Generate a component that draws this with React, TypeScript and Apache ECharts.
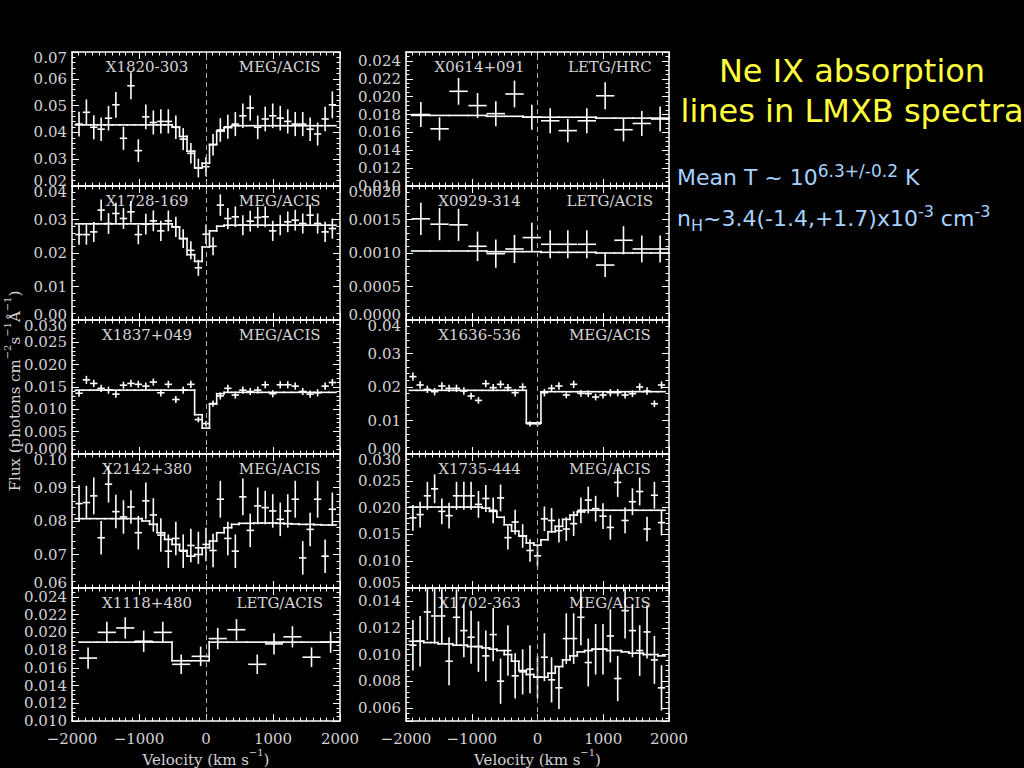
import React, { useEffect, useRef } from "react";
import * as echarts from "echarts";

// ---------- data ----------
const PANEL_NAMES = ["X1820-303", "X1728-169", "X1837+049", "X2142+380", "X1118+480", "X0614+091", "X0929-314", "X1636-536", "X1735-444", "X1702-363"];
const INSTRUMENTS = ["MEG/ACIS", "MEG/ACIS", "MEG/ACIS", "MEG/ACIS", "LETG/ACIS", "LETG/HRC", "LETG/ACIS", "MEG/ACIS", "MEG/ACIS", "MEG/ACIS"];
const Y_MIN = [0.02, 0, 0, 0.06, 0.01, 0.01, 0, 0, 0.005, 0.005];
const Y_MAX = [0.07, 0.04, 0.03, 0.1, 0.025, 0.025, 0.002, 0.04, 0.03, 0.015];
const Y_STEP = [0.01, 0.01, 0.005, 0.01, 0.002, 0.002, 0.0005, 0.01, 0.005, 0];
const Y_DECIMALS = [2, 2, 3, 2, 3, 3, 4, 2, 3, 3];
const X_TICKS_STEP = 1000;

// velocity bin centres (km/s)
const VEL35 = [-1895, -1785, -1675, -1565, -1455, -1345, -1232, -1120, -1010, -898, -786, -674, -562, -450, -340, -226, -114, 0, 105, 214, 326, 438, 550, 660, 772, 884, 996, 1108, 1220, 1332, 1444, 1554, 1666, 1778, 1886];
const VEL14_L = [-1760, -1480, -1205, -930, -645, -370, -80, 175, 455, 765, 1015, 1290, 1575, 1860];
const VEL14_R = [-1774, -1490, -1201, -912, -634, -350, -86, 193, 461, 750, 1029, 1308, 1586, 1865];
const HALF_BIN = [55, 55, 55, 55, 135, 140, 140, 55, 55, 55];

// X1820-303
const P1_FLUX = [0.0431, 0.0475, 0.0419, 0.0412, 0.0453, 0.0503, 0.0378, 0.0574, 0.0332, 0.0458, 0.0437, 0.0441, 0.0441, 0.0419, 0.0375, 0.0322, 0.0267, 0.0272, 0.0354, 0.0409, 0.0421, 0.0431, 0.0462, 0.0491, 0.0419, 0.045, 0.0462, 0.0453, 0.0441, 0.0431, 0.0431, 0.0412, 0.0394, 0.045, 0.0503];
const P1_ERR = [0.0046, 0.0048, 0.0045, 0.0044, 0.0046, 0.0048, 0.0043, 0.005, 0.0042, 0.0046, 0.0045, 0.0045, 0.0045, 0.0044, 0.0041, 0.0038, 0.0035, 0.0036, 0.004, 0.0044, 0.0045, 0.0045, 0.0046, 0.0047, 0.0044, 0.0046, 0.0046, 0.0046, 0.0045, 0.0045, 0.0045, 0.0044, 0.0043, 0.0046, 0.005];
const P1_MODEL = [0.0428, 0.0428, 0.0428, 0.0428, 0.0428, 0.0428, 0.0428, 0.0428, 0.0428, 0.0428, 0.0428, 0.0428, 0.0428, 0.042, 0.0385, 0.033, 0.0268, 0.0285, 0.0355, 0.0405, 0.0418, 0.0425, 0.0425, 0.0425, 0.0425, 0.0425, 0.0425, 0.0425, 0.0425, 0.0425, 0.0425, 0.0425, 0.0425, 0.0425, 0.0425];
// X1728-169
const P2_FLUX = [0.0255, 0.0255, 0.0263, 0.0328, 0.0288, 0.0318, 0.0303, 0.0323, 0.0255, 0.0286, 0.0296, 0.0266, 0.0296, 0.0278, 0.0243, 0.0208, 0.0156, 0.0256, 0.022, 0.0343, 0.0303, 0.0308, 0.0283, 0.0295, 0.0306, 0.0308, 0.0266, 0.0283, 0.0293, 0.0298, 0.0288, 0.0313, 0.0288, 0.0263, 0.0273];
const P2_ERR = [0.003, 0.003, 0.003, 0.0032, 0.0031, 0.0032, 0.0031, 0.0032, 0.0029, 0.0031, 0.0031, 0.003, 0.0031, 0.003, 0.0028, 0.0027, 0.0024, 0.0029, 0.0027, 0.0032, 0.0031, 0.0031, 0.003, 0.0031, 0.0031, 0.0031, 0.003, 0.003, 0.0031, 0.0031, 0.003, 0.0032, 0.003, 0.003, 0.003];
const P2_MODEL = [0.0287, 0.0287, 0.0287, 0.0287, 0.0287, 0.0287, 0.0287, 0.0287, 0.0287, 0.0287, 0.0287, 0.0287, 0.0287, 0.0278, 0.0243, 0.0195, 0.0175, 0.0218, 0.0266, 0.028, 0.0283, 0.0283, 0.0283, 0.0283, 0.0283, 0.0283, 0.0283, 0.0283, 0.0283, 0.0283, 0.0283, 0.0283, 0.0283, 0.0283, 0.0283];
// X1837+049
const P3_FLUX = [0.0136, 0.0166, 0.0158, 0.0147, 0.0143, 0.0134, 0.0154, 0.0158, 0.0156, 0.0152, 0.0161, 0.0137, 0.0156, 0.0122, 0.0143, 0.0156, 0.0077, 0.0068, 0.0113, 0.013, 0.0147, 0.0132, 0.0143, 0.014, 0.0143, 0.0155, 0.0135, 0.0155, 0.0155, 0.0152, 0.014, 0.0134, 0.0137, 0.0152, 0.016];
const P3_ERR = [0.0008, 0.0009, 0.0008, 0.0008, 0.0008, 0.0008, 0.0008, 0.0008, 0.0008, 0.0008, 0.0008, 0.0008, 0.0008, 0.0008, 0.0008, 0.0008, 0.0006, 0.0006, 0.0007, 0.0008, 0.0008, 0.0008, 0.0008, 0.0008, 0.0008, 0.0008, 0.0008, 0.0008, 0.0008, 0.0008, 0.0008, 0.0008, 0.0008, 0.0008, 0.0008];
const P3_MODEL = [0.0143, 0.0143, 0.0143, 0.0143, 0.0143, 0.0143, 0.0143, 0.0143, 0.0143, 0.0143, 0.0143, 0.0143, 0.0143, 0.0143, 0.0143, 0.0143, 0.0088, 0.0058, 0.0112, 0.0135, 0.0138, 0.0138, 0.0138, 0.0138, 0.0138, 0.0138, 0.0138, 0.0138, 0.0138, 0.0138, 0.0138, 0.0138, 0.0138, 0.0138, 0.0138];
// X2142+380
const P4_FLUX = [0.0852, 0.0855, 0.0875, 0.075, 0.091, 0.0828, 0.0812, 0.0842, 0.0765, 0.086, 0.0818, 0.0758, 0.071, 0.0748, 0.071, 0.0727, 0.072, 0.073, 0.0712, 0.0865, 0.0748, 0.071, 0.0872, 0.0772, 0.0845, 0.084, 0.083, 0.0805, 0.083, 0.0865, 0.069, 0.0775, 0.0865, 0.0695, 0.0835];
const P4_ERR = [0.0055, 0.005, 0.0055, 0.005, 0.0055, 0.005, 0.005, 0.005, 0.005, 0.0055, 0.005, 0.005, 0.005, 0.005, 0.005, 0.005, 0.0048, 0.005, 0.005, 0.0055, 0.005, 0.005, 0.0055, 0.005, 0.0055, 0.005, 0.005, 0.005, 0.005, 0.0055, 0.005, 0.005, 0.0055, 0.005, 0.005];
const P4_MODEL = [0.0807, 0.0807, 0.0807, 0.0807, 0.0807, 0.0807, 0.0807, 0.0807, 0.0807, 0.08, 0.079, 0.0765, 0.0745, 0.073, 0.0712, 0.0695, 0.07, 0.072, 0.074, 0.0765, 0.078, 0.079, 0.0793, 0.0793, 0.0794, 0.0794, 0.0794, 0.0793, 0.0792, 0.0791, 0.079, 0.079, 0.0789, 0.0788, 0.0788];
// X1118+480
const P5_FLUX = [0.0171, 0.02, 0.0205, 0.019, 0.02, 0.0164, 0.0173, 0.0193, 0.0203, 0.0164, 0.0187, 0.0195, 0.0172, 0.0189];
const P5_ERR = [0.0012, 0.0012, 0.0012, 0.0012, 0.0012, 0.0011, 0.0011, 0.0012, 0.0012, 0.0011, 0.0012, 0.0012, 0.0011, 0.0012];
const P5_MODEL = [0.0189, 0.0189, 0.0189, 0.0189, 0.0189, 0.0168, 0.0168, 0.0189, 0.0189, 0.0189, 0.0189, 0.0189, 0.0189, 0.0189];
// X0614+091
const R1_FLUX = [0.018, 0.0164, 0.0206, 0.019, 0.0181, 0.0203, 0.0177, 0.0173, 0.0162, 0.0173, 0.0201, 0.0163, 0.017, 0.0175];
const R1_ERR = [0.0014, 0.0013, 0.0015, 0.0014, 0.0014, 0.0015, 0.0014, 0.0014, 0.0013, 0.0014, 0.0015, 0.0013, 0.0014, 0.0014];
const R1_MODEL = [0.0179, 0.0179, 0.0179, 0.0179, 0.0178, 0.0178, 0.0177, 0.0177, 0.0177, 0.0177, 0.0176, 0.0176, 0.0176, 0.0176];
// X0929-314
const R2_FLUX = [0.00151, 0.00143, 0.00142, 0.0011, 0.00099, 0.00106, 0.00123, 0.00113, 0.00113, 0.00113, 0.00082, 0.00119, 0.00106, 0.00106];
const R2_ERR = [0.00024, 0.00024, 0.00024, 0.00022, 0.00021, 0.00021, 0.00022, 0.00021, 0.00021, 0.00021, 0.00018, 0.00021, 0.0002, 0.0002];
const R2_MODEL = [0.00103, 0.00103, 0.00103, 0.00103, 0.00102, 0.00102, 0.00102, 0.00101, 0.00101, 0.00101, 0.001, 0.001, 0.001, 0.001];
// X1636-536
const R3_FLUX = [0.0231, 0.0206, 0.0193, 0.0186, 0.0203, 0.0196, 0.0196, 0.0188, 0.0173, 0.016, 0.021, 0.0198, 0.0208, 0.0198, 0.0183, 0.02, 0.009, 0.009, 0.0183, 0.0196, 0.0203, 0.0176, 0.0208, 0.0181, 0.018, 0.017, 0.0176, 0.0183, 0.0183, 0.0176, 0.018, 0.02, 0.0188, 0.015, 0.0206];
const R3_ERR = [0.0012, 0.0011, 0.0011, 0.0011, 0.0011, 0.0011, 0.0011, 0.0011, 0.001, 0.001, 0.0011, 0.0011, 0.0011, 0.0011, 0.0011, 0.0011, 0.0008, 0.0008, 0.0011, 0.0011, 0.0011, 0.001, 0.0011, 0.001, 0.001, 0.001, 0.001, 0.0011, 0.0011, 0.001, 0.001, 0.0011, 0.0011, 0.001, 0.0011];
const R3_MODEL = [0.019, 0.019, 0.019, 0.019, 0.019, 0.019, 0.019, 0.019, 0.019, 0.019, 0.019, 0.019, 0.019, 0.019, 0.019, 0.019, 0.0093, 0.0093, 0.0186, 0.0186, 0.0186, 0.0186, 0.0186, 0.0186, 0.0186, 0.0186, 0.0186, 0.0186, 0.0186, 0.0186, 0.0186, 0.0186, 0.0186, 0.0186, 0.0186];
// X1735-444
const R4_FLUX = [0.0181, 0.0187, 0.0222, 0.0235, 0.0193, 0.0185, 0.0222, 0.0222, 0.0222, 0.0206, 0.0217, 0.0195, 0.0218, 0.0144, 0.0173, 0.0147, 0.012, 0.011, 0.0179, 0.0176, 0.0157, 0.016, 0.017, 0.0195, 0.0214, 0.0198, 0.0184, 0.0163, 0.0247, 0.0176, 0.0211, 0.023, 0.016, 0.0223, 0.0172];
const R4_ERR = [0.0024, 0.0024, 0.0026, 0.0027, 0.0024, 0.0024, 0.0026, 0.0026, 0.0026, 0.0025, 0.0025, 0.0024, 0.0025, 0.0022, 0.0023, 0.0022, 0.0021, 0.002, 0.0023, 0.0023, 0.0022, 0.0022, 0.0023, 0.0024, 0.0025, 0.0024, 0.0024, 0.0023, 0.0027, 0.0024, 0.0025, 0.0026, 0.0023, 0.0025, 0.0024];
const R4_MODEL = [0.0201, 0.0201, 0.0201, 0.0201, 0.0201, 0.0201, 0.0201, 0.0201, 0.0201, 0.0201, 0.0199, 0.0193, 0.0182, 0.0168, 0.0156, 0.0147, 0.0134, 0.013, 0.014, 0.0155, 0.0165, 0.0178, 0.0186, 0.0192, 0.0195, 0.0195, 0.0195, 0.0195, 0.0195, 0.0195, 0.0195, 0.0195, 0.0195, 0.0195, 0.0195];
// X1702-363
const R5_FLUX = [0.0107, 0.011, 0.0132, 0.0129, 0.0129, 0.0095, 0.0128, 0.0118, 0.0113, 0.0106, 0.0099, 0.0115, 0.008, 0.0103, 0.0084, 0.0087, 0.0089, 0.0083, 0.0098, 0.0081, 0.0075, 0.0112, 0.0112, 0.0128, 0.0094, 0.0104, 0.0104, 0.0114, 0.0082, 0.0133, 0.0118, 0.0103, 0.0117, 0.0096, 0.0075];
const R5_ERR = [0.0019, 0.0019, 0.0021, 0.0021, 0.0021, 0.0018, 0.0021, 0.002, 0.002, 0.0019, 0.0019, 0.002, 0.0017, 0.0019, 0.0017, 0.0017, 0.0018, 0.0016, 0.0018, 0.0017, 0.0016, 0.0019, 0.0019, 0.0021, 0.0018, 0.0019, 0.0019, 0.002, 0.0017, 0.0021, 0.002, 0.0019, 0.002, 0.0018, 0.0017];
const R5_MODEL = [0.011, 0.011, 0.0109, 0.0109, 0.0108, 0.0108, 0.0107, 0.0107, 0.0106, 0.0106, 0.0105, 0.0104, 0.0103, 0.01, 0.0095, 0.0088, 0.0085, 0.0083, 0.0083, 0.0086, 0.0091, 0.0096, 0.0099, 0.0102, 0.0103, 0.0104, 0.0104, 0.0103, 0.0103, 0.0102, 0.0101, 0.0101, 0.01, 0.01, 0.0099];

const VELS = [VEL35, VEL35, VEL35, VEL35, VEL14_L, VEL14_R, VEL14_R, VEL35, VEL35, VEL35];
const FLUXES = [P1_FLUX, P2_FLUX, P3_FLUX, P4_FLUX, P5_FLUX, R1_FLUX, R2_FLUX, R3_FLUX, R4_FLUX, R5_FLUX];
const ERRS = [P1_ERR, P2_ERR, P3_ERR, P4_ERR, P5_ERR, R1_ERR, R2_ERR, R3_ERR, R4_ERR, R5_ERR];
const MODELS = [P1_MODEL, P2_MODEL, P3_MODEL, P4_MODEL, P5_MODEL, R1_MODEL, R2_MODEL, R3_MODEL, R4_MODEL, R5_MODEL];

// ---------- layout ----------
const COL_LEFT = [72, 406];
const COL_WIDTH = [268, 263];
const ROW_TOP0 = 52;
const ROW_H = 134;
const SERIF = "DejaVu Serif";
const SANS = "DejaVu Sans";
const LABEL_COLOR = "#d4d4d4";
const LINE_COLOR = "#ffffff";

function minusFmt(v: number, dec: number) {
  const s = Math.abs(v).toFixed(dec);
  return v < 0 ? "\u2212" + s : s;
}

const tickFont = { fontFamily: SERIF, fontSize: 15, color: LABEL_COLOR };

function buildOption() {
  const grid: any[] = [];
  const xAxis: any[] = [];
  const yAxis: any[] = [];
  const series: any[] = [];
  const graphic: any[] = [];

  for (let i = 0; i < 10; i++) {
    const col = i < 5 ? 0 : 1;
    const row = i % 5;
    const left = COL_LEFT[col];
    const width = COL_WIDTH[col];
    const top = ROW_TOP0 + row * ROW_H;
    const isBottom = row === 4;
    grid.push({ left, top, width, height: ROW_H, show: false });

    const axisLine = { show: true, onZero: false, lineStyle: { color: LINE_COLOR, width: 1.5 } };
    const tick = { show: true, inside: true, length: 7, lineStyle: { color: LINE_COLOR, width: 1 } };
    const xBase = {
      gridIndex: i, type: "value", min: -2000, max: 2000, interval: X_TICKS_STEP,
      axisLine, axisTick: tick,
      minorTick: { show: true, splitNumber: 10, length: 3.5, lineStyle: { color: LINE_COLOR, width: 1 } },
      splitLine: { show: false },
    };
    xAxis.push({
      ...xBase, position: "bottom",
      axisLabel: {
        show: isBottom, ...tickFont, margin: 10,
        formatter: (v: number) => minusFmt(v, 0),
      },
      name: isBottom ? "{n|Velocity (km s}{sup|\u22121}{n|)}" : "",
      nameLocation: "middle", nameGap: 25,
      nameTextStyle: {
        rich: {
          n: { ...tickFont, lineHeight: 20, verticalAlign: "bottom" },
          sup: { ...tickFont, fontSize: 10, verticalAlign: "top" },
        },
      },
    });
    xAxis.push({ ...xBase, position: "top", axisLabel: { show: false } });

    const step = Y_STEP[i];
    const dec = Y_DECIMALS[i];
    const yMin = Y_MIN[i];
    const yMax = Y_MAX[i];
    const dense = step === 0.002;
    const yBase: any = {
      gridIndex: i, type: "value", min: yMin, max: yMax,
      axisLine, axisTick: tick,
      minorTick: { show: true, splitNumber: dense ? 4 : 5, length: 3.5, lineStyle: { color: LINE_COLOR, width: 1 } },
      splitLine: { show: false },
    };
    if (step > 0) yBase.interval = step; else yBase.splitNumber = 5;
    yAxis.push({
      ...yBase, position: "left",
      axisLabel: {
        show: true, ...tickFont, margin: 5, hideOverlap: false,
        showMinLabel: step === 0 ? false : true,
        showMaxLabel: step === 0 || dense ? false : true,
        formatter: (v: number) => {
          const s = v.toFixed(dec);
          if (Math.abs(v - yMax) < 1e-9) return "{hi|" + s + "}";
          if (!dense && Math.abs(v - yMin) < 1e-9) return "{lo|" + s + "}";
          return "{m|" + s + "}";
        },
        rich: {
          m: { ...tickFont },
          hi: { ...tickFont, padding: [11, 0, 0, 0] },
          lo: { ...tickFont, padding: [0, 0, 11, 0] },
        },
      },
    });
    yAxis.push({ ...yBase, position: "right", axisLabel: { show: false } });

    const xi = i * 2;
    const yi = i * 2;

    // zero-velocity dashed line
    series.push({
      type: "scatter", xAxisIndex: xi, yAxisIndex: yi, data: [], silent: true,
      markLine: {
        silent: true, symbol: "none", animation: false,
        label: { show: false },
        lineStyle: { color: "#b0b0b0", type: [5, 4], width: 1 },
        data: [{ xAxis: 0 }],
      },
    });

    const vel = VELS[i];
    const flux = FLUXES[i];
    const err = ERRS[i];
    const model = MODELS[i];
    const hw = HALF_BIN[i];
    const n = vel.length;

    // model histogram
    const modelData = vel.map((v, k) => [
      k === 0 ? v - hw : (vel[k - 1] + v) / 2,
      k === n - 1 ? v + hw : (v + vel[k + 1]) / 2,
      model[k],
      k === 0 ? model[k] : model[k - 1],
    ]);
    series.push({
      type: "custom", xAxisIndex: xi, yAxisIndex: yi, silent: true,
      encode: { x: [0, 1], y: [2, 3] },
      data: modelData,
      renderItem: (params: any, api: any) => {
        const y = api.value(2);
        const l = api.coord([api.value(0), y]);
        const r = api.coord([api.value(1), y]);
        const p = api.coord([api.value(0), api.value(3)]);
        const style = { stroke: LINE_COLOR, lineWidth: 1.6, lineCap: "square" };
        return {
          type: "group",
          children: [
            { type: "line", shape: { x1: l[0], y1: l[1], x2: r[0], y2: r[1] }, style },
            { type: "line", shape: { x1: l[0], y1: p[1], x2: l[0], y2: l[1] }, style },
          ],
        };
      },
    });

    // data points with error bars
    const pts = vel.map((v, k) => [v, flux[k], err[k]]);
    series.push({
      type: "custom", xAxisIndex: xi, yAxisIndex: yi, silent: true,
      encode: { x: 0, y: 1 },
      data: pts,
      renderItem: (params: any, api: any) => {
        const x = api.value(0);
        const y = api.value(1);
        const e = api.value(2);
        const cs = params.coordSys;
        const cy = (v: number) => Math.max(cs.y, Math.min(cs.y + cs.height, v));
        const cx = (v: number) => Math.max(cs.x, Math.min(cs.x + cs.width, v));
        const c = api.coord([x, y]);
        const l = api.coord([x - hw, y]);
        const r = api.coord([x + hw, y]);
        const t = api.coord([x, y + e]);
        const b = api.coord([x, y - e]);
        const style = { stroke: LINE_COLOR, lineWidth: 1.6 };
        return {
          type: "group",
          children: [
            { type: "line", shape: { x1: cx(l[0]), y1: c[1], x2: cx(r[0]), y2: c[1] }, style },
            { type: "line", shape: { x1: c[0], y1: cy(t[1]), x2: c[0], y2: cy(b[1]) }, style },
          ],
        };
      },
    });

    // panel captions
    graphic.push({
      type: "text", x: left + 0.28 * width, y: top + 15, silent: true,
      style: { text: PANEL_NAMES[i], fill: LABEL_COLOR, font: `15px '${SERIF}'`, textAlign: "center", textVerticalAlign: "middle" },
    });
    graphic.push({
      type: "text", x: left + 0.775 * width, y: top + 15, silent: true,
      style: { text: INSTRUMENTS[i], fill: LABEL_COLOR, font: `15px '${SERIF}'`, textAlign: "center", textVerticalAlign: "middle" },
    });
  }

  // y-axis title
  graphic.push({
    type: "text", x: 12, y: 391, rotation: Math.PI / 2, silent: true,
    style: {
      text: "{n|Flux (photons cm}{sup|\u22122}{n|s}{sup|\u22121}{n|\u00C5}{sup|\u22121}{n|)}",
      textAlign: "center", textVerticalAlign: "middle",
      rich: {
        n: { fontFamily: SERIF, fontSize: 15, fill: LABEL_COLOR, lineHeight: 20, verticalAlign: "bottom" },
        sup: { fontFamily: SERIF, fontSize: 10, fill: LABEL_COLOR, verticalAlign: "top" },
      },
    },
  });

  // headline text
  const yellow = "#ffff3c";
  graphic.push({
    type: "text", x: 852, y: 71, silent: true,
    style: { text: "Ne IX absorption", fill: yellow, font: `32px '${SANS}'`, textAlign: "center", textVerticalAlign: "middle" },
  });
  graphic.push({
    type: "text", x: 852, y: 111, silent: true,
    style: { text: "lines in LMXB spectra", fill: yellow, font: `32px '${SANS}'`, textAlign: "center", textVerticalAlign: "middle" },
  });
  const blue = "#a6d2ff";
  graphic.push({
    type: "text", x: 677, y: 177, silent: true,
    style: {
      text: "{n|Mean T ~ 10}{sup|6.3+/-0.2}{n| K}",
      textAlign: "left", textVerticalAlign: "middle",
      rich: {
        n: { fontFamily: SANS, fontSize: 22, fill: blue, lineHeight: 30, verticalAlign: "middle" },
        sup: { fontFamily: SANS, fontSize: 17, fill: blue, verticalAlign: "top" },
      },
    },
  });
  graphic.push({
    type: "text", x: 677, y: 218, silent: true,
    style: {
      text: "{n|n}{sub|H}{n|~3.4(-1.4,+1.7)x10}{sup|-3}{n| cm}{sup|-3}",
      textAlign: "left", textVerticalAlign: "middle",
      rich: {
        n: { fontFamily: SANS, fontSize: 22, fill: blue, lineHeight: 30, verticalAlign: "middle" },
        sup: { fontFamily: SANS, fontSize: 16, fill: blue, verticalAlign: "top" },
        sub: { fontFamily: SANS, fontSize: 16, fill: blue, verticalAlign: "bottom" },
      },
    },
  });

  return {
    backgroundColor: "#000000",
    animation: false,
    grid, xAxis, yAxis, series, graphic,
  };
}

export default function App() {
  const ref = useRef<HTMLDivElement>(null);
  useEffect(() => {
    const chart = echarts.init(ref.current!, undefined, { renderer: "svg" });
    chart.setOption(buildOption() as any);
    return () => chart.dispose();
  }, []);
  return (
    <div
      ref={ref}
      style={{ position: "fixed", left: 0, top: 0, width: 1024, height: 768, background: "#000" }}
    />
  );
}
